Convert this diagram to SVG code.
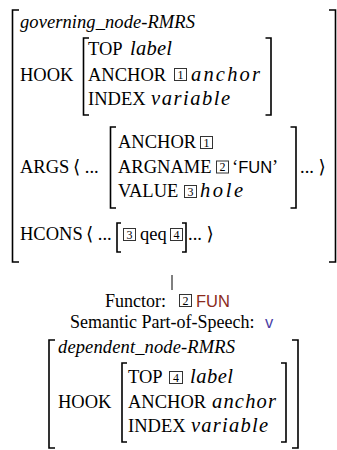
<svg xmlns="http://www.w3.org/2000/svg" width="337" height="450" viewBox="0 0 337 450">
<style>
text{font-family:"Liberation Serif","DejaVu Serif",serif;font-size:18.5px;fill:#000}
.it{font-style:italic}
.m{font-style:italic;font-size:20.5px}
.sans{font-family:"Liberation Sans","DejaVu Sans",sans-serif;font-size:16.5px}
.lbl{font-size:18px}
.num{font-size:12px;text-anchor:middle}
.br{fill:none;stroke:#000;stroke-width:1.6}
.box{fill:none;stroke:#333;stroke-width:1}
.conn{stroke:#000;stroke-width:1}
.fun{fill:#8B2B1C}
.pos{fill:#4B3FA6}
</style>
<g id="governing-node">
<path class="br" d="M19,10 H12.5 V262 H19"/>
<path class="br" d="M329,10 H335.5 V262 H329"/>
<text class="it" x="20" y="27.5" textLength="175">governing_node-RMRS</text>
<text x="20" y="81">HOOK</text>
<path class="br" d="M89,38 H83.5 V115 H89"/>
<path class="br" d="M265.5,38 H271 V115 H265.5"/>
<text x="88" y="55">TOP</text>
<text class="m" x="130" y="55" textLength="42" lengthAdjust="spacing">label</text>
<text x="88" y="80.5">ANCHOR</text>
<rect class="box" x="174.5" y="68.5" width="12" height="12"/>
<text class="num" x="180.5" y="78.5">1</text>
<text class="m" x="191" y="80.5" textLength="69" lengthAdjust="spacing">anchor</text>
<text x="88" y="105">INDEX</text>
<text class="m" x="151" y="105" textLength="79" lengthAdjust="spacing">variable</text>
<text x="20" y="173">ARGS</text>
<text x="73" y="173">⟨ ...</text>
<path class="br" d="M116,127 H110.5 V208 H116"/>
<path class="br" d="M290.5,127 H296 V208 H290.5"/>
<text x="118" y="148">ANCHOR</text>
<rect class="box" x="200.5" y="136.5" width="12" height="12"/>
<text class="num" x="206.5" y="146.5">1</text>
<text x="118" y="172.5">ARGNAME</text>
<rect class="box" x="216.5" y="161" width="12" height="12"/>
<text class="num" x="222.5" y="171">2</text>
<text x="232" y="172.5">‘<tspan class="sans">FUN</tspan>’</text>
<text x="118" y="197">VALUE</text>
<rect class="box" x="184.5" y="185.5" width="12" height="12"/>
<text class="num" x="190.5" y="195.5">3</text>
<text class="m" x="200" y="197" textLength="43" lengthAdjust="spacing">hole</text>
<text x="300" y="173">... ⟩</text>
<text x="20" y="240">HCONS</text>
<text x="86" y="240">⟨ ...</text>
<path class="br" d="M121,223 H117 V252 H121"/>
<rect class="box" x="123.5" y="228.5" width="12" height="12"/>
<text class="num" x="129.5" y="238.5">3</text>
<text x="140" y="240">qeq</text>
<rect class="box" x="170.5" y="228.5" width="12" height="12"/>
<text class="num" x="176.5" y="238.5">4</text>
<path class="br" d="M182,223 H186 V252 H182"/>
<text x="188" y="240">... ⟩</text>
</g>
<g id="connectors">
<line class="conn" x1="172" y1="275" x2="172" y2="290"/>
</g>
<g id="edge-label">
<text class="lbl" x="105" y="306.5">Functor:</text>
<rect class="box" x="179.5" y="294.5" width="12" height="12"/>
<text class="num" x="185.5" y="304.5">2</text>
<text class="sans fun" x="196" y="306.5">FUN</text>
<text class="lbl" x="70" y="328">Semantic Part-of-Speech:</text>
<text class="sans pos" x="265" y="328">v</text>
</g>
<g id="dependent-node">
<path class="br" d="M55,340 H49 V448 H55"/>
<path class="br" d="M292,340 H298 V448 H292"/>
<text class="it" x="58" y="352.5" textLength="177">dependent_node-RMRS</text>
<text x="58" y="408">HOOK</text>
<path class="br" d="M127,363 H122 V442 H127"/>
<path class="br" d="M281,363 H286 V442 H281"/>
<text x="128" y="383">TOP</text>
<rect class="box" x="169.5" y="371.5" width="13" height="12"/>
<text class="num" x="176" y="381.5">4</text>
<text class="m" x="190" y="383" textLength="43" lengthAdjust="spacing">label</text>
<text x="128" y="408">ANCHOR</text>
<text class="m" x="212" y="408" textLength="64" lengthAdjust="spacing">anchor</text>
<text x="128" y="432">INDEX</text>
<text class="m" x="191" y="432" textLength="77" lengthAdjust="spacing">variable</text>
</g>
</svg>
